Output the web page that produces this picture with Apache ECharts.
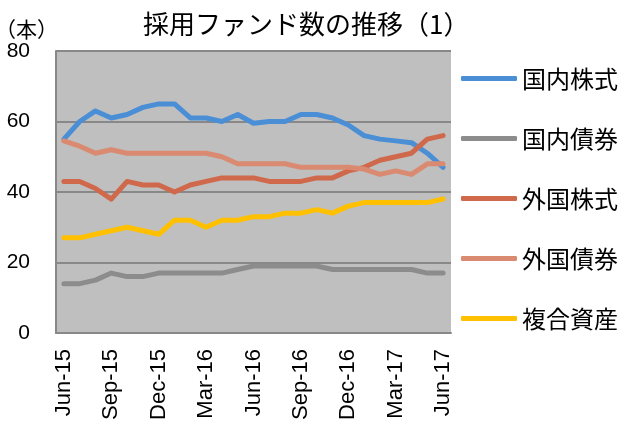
<!DOCTYPE html>
<html>
<head>
<meta charset="utf-8">
<script src="https://cdn.jsdelivr.net/npm/echarts@6/dist/echarts.min.js"></script>
<style>
  html, body { margin: 0; padding: 0; background: #fff; }
  #main { width: 624px; height: 429px; }
</style>
</head>
<body>
<div id="main"></div>
<script>
// 月次カテゴリ (Jun-15 〜 Jun-17)
var months = ['Jun-15', 'Jul-15', 'Aug-15', 'Sep-15', 'Oct-15', 'Nov-15', 'Dec-15',
  'Jan-16', 'Feb-16', 'Mar-16', 'Apr-16', 'May-16', 'Jun-16', 'Jul-16', 'Aug-16',
  'Sep-16', 'Oct-16', 'Nov-16', 'Dec-16', 'Jan-17', 'Feb-17', 'Mar-17', 'Apr-17',
  'May-17', 'Jun-17'];

// 各資産の採用ファンド数
var domesticEquity = [55, 60, 63, 61, 62, 64, 65, 65, 61, 61, 60, 62, 59.5, 60, 60, 62, 62, 61, 59, 56, 55, 54.5, 54, 51, 47];
var domesticBond   = [14, 14, 15, 17, 16, 16, 17, 17, 17, 17, 17, 18, 19, 19, 19, 19, 19, 18, 18, 18, 18, 18, 18, 17, 17];
var foreignEquity  = [43, 43, 41, 38, 43, 42, 42, 40, 42, 43, 44, 44, 44, 43, 43, 43, 44, 44, 46, 47, 49, 50, 51, 55, 56];
var foreignBond    = [54.5, 53, 51, 52, 51, 51, 51, 51, 51, 51, 50, 48, 48, 48, 48, 47, 47, 47, 47, 46.5, 45, 46, 45, 48, 48];
var multiAsset     = [27, 27, 28, 29, 30, 29, 28, 32, 32, 30, 32, 32, 33, 33, 34, 34, 35, 34, 36, 37, 37, 37, 37, 37, 38];

var seriesNames = ['国内株式', '国内債券', '外国株式', '外国債券', '複合資産'];
var seriesData = [domesticEquity, domesticBond, foreignEquity, foreignBond, multiAsset];
var colors = ['#4a8fd6', '#8c8c8c', '#d0694b', '#d98a70', '#ffc000'];

var chart = echarts.init(document.getElementById('main'));

var option = {
  animation: false,
  color: colors,
  title: [{
    text: '採用ファンド数の推移（1）',
    left: 138,
    top: 6,
    textStyle: { fontFamily: 'Noto Sans CJK JP', fontSize: 26, fontWeight: 'normal', color: '#000' }
  }, {
    text: '（本）',
    left: -10,
    top: 14,
    textStyle: { fontFamily: 'Noto Sans CJK JP', fontSize: 21, fontWeight: 'normal', color: '#000' }
  }],
  legend: {
    orient: 'vertical',
    left: 461,
    top: 66,
    padding: 0,
    itemWidth: 56,
    itemHeight: 5,
    itemGap: 35,
    icon: 'roundRect',
    textStyle: { fontFamily: 'Noto Sans CJK JP', fontSize: 24, color: '#000', lineHeight: 25 },
    data: seriesNames
  },
  grid: {
    left: 56,
    right: 173,
    top: 51,
    bottom: 96,
    show: true,
    backgroundColor: '#bfbfbf',
    borderWidth: 0
  },
  xAxis: {
    type: 'category',
    data: months,
    boundaryGap: true,
    axisLine: { show: true, lineStyle: { color: '#888', width: 2 } },
    axisTick: { show: false },
    axisLabel: {
      interval: 2,
      rotate: 90,
      margin: 16,
      fontFamily: 'Liberation Sans',
      fontSize: 22,
      color: '#000'
    }
  },
  yAxis: {
    type: 'value',
    min: 0,
    max: 80,
    interval: 20,
    axisLine: { show: true, lineStyle: { color: '#888', width: 2 } },
    axisTick: { show: false },
    splitLine: { show: true, lineStyle: { color: '#888', width: 2 } },
    axisLabel: {
      margin: 26,
      fontFamily: 'Liberation Sans',
      fontSize: 21,
      color: '#000'
    }
  },
  series: seriesNames.map(function (name, i) {
    return {
      name: name,
      type: 'line',
      data: seriesData[i],
      showSymbol: false,
      symbol: 'none',
      lineStyle: { width: 5, cap: 'round', join: 'round' }
    };
  })
};

chart.setOption(option);
</script>
</body>
</html>
